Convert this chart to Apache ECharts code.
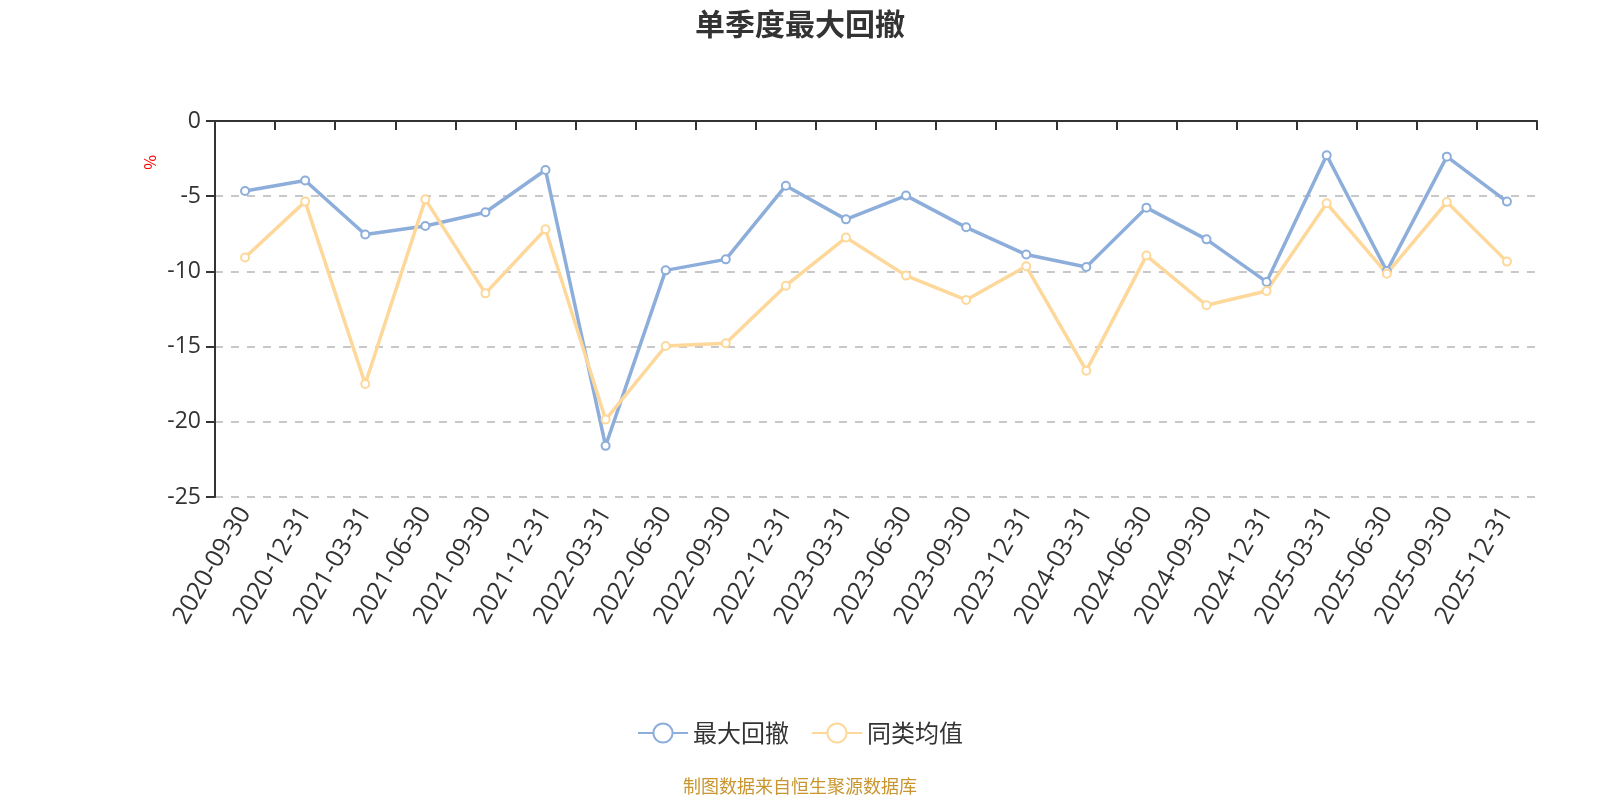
<!DOCTYPE html>
<html>
<head>
<meta charset="utf-8">
<script src="https://cdn.jsdelivr.net/npm/echarts@6/dist/echarts.min.js"></script>
<style>
html, body { margin: 0; padding: 0; background: #fff; }
#main { width: 1600px; height: 800px; }
</style>
</head>
<body>
<div id="main"></div>
<script>
var categories = ["2020-09-30", "2020-12-31", "2021-03-31", "2021-06-30", "2021-09-30", "2021-12-31",
	"2022-03-31", "2022-06-30", "2022-09-30", "2022-12-31", "2023-03-31", "2023-06-30",
	"2023-09-30", "2023-12-31", "2024-03-31", "2024-06-30", "2024-09-30", "2024-12-31",
	"2025-03-31", "2025-06-30", "2025-09-30", "2025-12-31"];
var maxDrawdown = [-4.65, -3.96, -7.55, -6.98, -6.07, -3.26, -21.6, -9.93, -9.2, -4.3, -6.54, -4.96,
	-7.07, -8.88, -9.71, -5.76, -7.87, -10.7, -2.28, -9.98, -2.37, -5.36];
var peerAverage = [-9.08, -5.36, -17.49, -5.21, -11.46, -7.2, -19.85, -14.96, -14.78, -10.95, -7.75, -10.28,
	-11.9, -9.66, -16.6, -8.95, -12.25, -11.3, -5.47, -10.15, -5.39, -9.35];
var seriesNames = ["最大回撤", "同类均值"];
var yTicks = { min: -25, max: 0, interval: 5 };

var chart = echarts.init(document.getElementById("main"));

var option = {
	backgroundColor: "#fff",
	animation: false,
	title: {
		text: "单季度最大回撤",
		left: "center",
		top: 4,
		textStyle: {
			color: "#333",
			fontSize: 30,
			fontWeight: "bold",
			fontFamily: "Noto Sans CJK SC"
		}
	},
	legend: {
		bottom: 50,
		left: "center",
		itemWidth: 50,
		itemHeight: 24,
		itemGap: 22,
		textStyle: {
			color: "#333",
			fontSize: 24,
			fontFamily: "Noto Sans CJK SC"
		},
		data: seriesNames
	},
	graphic: [{
		type: "text",
		left: "center",
		bottom: 5,
		style: {
			text: "制图数据来自恒生聚源数据库",
			fill: "#c8952e",
			fontSize: 18,
			fontFamily: "Noto Sans CJK SC"
		}
	}, {
		type: "text",
		x: 158,
		y: 155,
		rotation: -Math.PI / 2,
		style: {
			text: "%",
			fill: "#ff0000",
			fontSize: 16,
			fontFamily: "Noto Sans CJK SC"
		}
	}],
	grid: {
		left: 215,
		right: 63,
		top: 121,
		bottom: 303
	},
	xAxis: [{
		type: "category",
		position: "bottom",
		data: categories,
		boundaryGap: true,
		axisLine: { show: false },
		axisTick: { show: false },
		axisLabel: {
			rotate: 60,
			margin: 12,
			interval: 0,
			color: "#333",
			fontSize: 25,
			fontFamily: "Open Sans"
		}
	}, {
		type: "category",
		position: "top",
		data: categories,
		boundaryGap: true,
		axisLine: { show: true, lineStyle: { color: "#333", width: 2 } },
		axisTick: { show: true, inside: true, length: 9, interval: 0, lineStyle: { color: "#333", width: 2 } },
		axisLabel: { show: false }
	}],
	yAxis: {
		type: "value",
		min: yTicks.min,
		max: yTicks.max,
		interval: yTicks.interval,
		axisLine: { show: true, onZero: false, lineStyle: { color: "#333", width: 2 } },
		axisTick: { show: true, length: 9, lineStyle: { color: "#333", width: 2 } },
		axisLabel: {
			color: "#333",
			fontSize: 23,
			margin: 14,
			fontFamily: "Open Sans"
		},
		splitLine: {
			show: true,
			lineStyle: { color: "#c8c8c8", type: [8, 8], width: 2 }
		}
	},
	series: [{
		name: seriesNames[0],
		type: "line",
		data: maxDrawdown,
		symbol: "emptyCircle",
		symbolSize: 8,
		itemStyle: { color: "#8daedb", borderWidth: 2 },
		lineStyle: { color: "#8daedb", width: 3.5 }
	}, {
		name: seriesNames[1],
		type: "line",
		data: peerAverage,
		symbol: "emptyCircle",
		symbolSize: 8,
		itemStyle: { color: "#fdd89a", borderWidth: 2 },
		lineStyle: { color: "#fdd89a", width: 3.5 }
	}]
};

chart.setOption(option);
</script>
</body>
</html>
